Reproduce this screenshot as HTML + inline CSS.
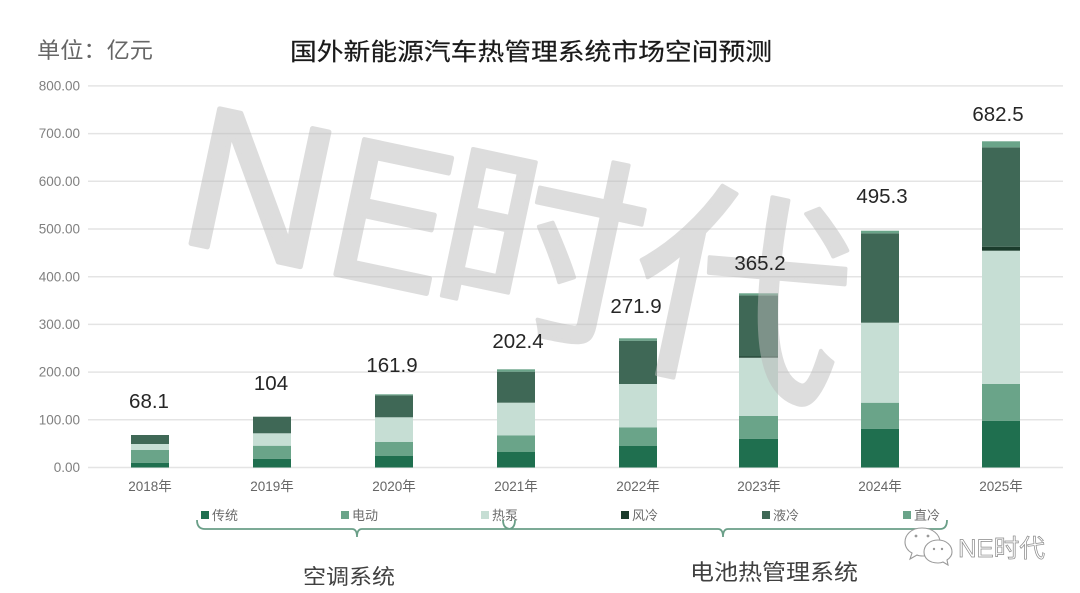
<!DOCTYPE html>
<html>
<head>
<meta charset="utf-8">
<style>
  html, body { margin: 0; padding: 0; background: #ffffff; }
  body { width: 1080px; height: 593px; overflow: hidden; }
  svg { display: block; }
  .cjk { font-family: "Liberation Sans", "Noto Sans CJK SC", "WenQuanYi Zen Hei", sans-serif; }
</style>
</head>
<body>
<svg width="1080" height="593" viewBox="0 0 1080 593" xmlns="http://www.w3.org/2000/svg">
  <rect width="1080" height="593" fill="#ffffff"/>

  <!-- Header -->
  <text class="cjk" x="37" y="58" font-size="22" fill="#666666" textLength="116" lengthAdjust="spacingAndGlyphs">单位：亿元</text>
  <text class="cjk" x="290" y="60" font-size="24" fill="#1a1a1a" stroke="#1a1a1a" stroke-width="0.2" textLength="482" lengthAdjust="spacingAndGlyphs">国外新能源汽车热管理系统市场空间预测</text>

  <!-- Gridlines -->
  <g stroke="#e4e4e4" stroke-width="1.5">
    <line x1="88" y1="85.9" x2="1063" y2="85.9"/>
    <line x1="88" y1="133.6" x2="1063" y2="133.6"/>
    <line x1="88" y1="181.3" x2="1063" y2="181.3"/>
    <line x1="88" y1="229" x2="1063" y2="229"/>
    <line x1="88" y1="276.7" x2="1063" y2="276.7"/>
    <line x1="88" y1="324.4" x2="1063" y2="324.4"/>
    <line x1="88" y1="372.1" x2="1063" y2="372.1"/>
    <line x1="88" y1="419.8" x2="1063" y2="419.8"/>
    <line x1="88" y1="467.5" x2="1063" y2="467.5"/>
  </g>

  <!-- Y axis labels -->
  <g font-family="Liberation Sans, sans-serif" font-size="13.5" fill="#808080" text-anchor="end">
    <text x="80" y="90.5">800.00</text>
    <text x="80" y="138.2">700.00</text>
    <text x="80" y="185.9">600.00</text>
    <text x="80" y="233.6">500.00</text>
    <text x="80" y="281.3">400.00</text>
    <text x="80" y="329">300.00</text>
    <text x="80" y="376.7">200.00</text>
    <text x="80" y="424.4">100.00</text>
    <text x="80" y="472.1">0.00</text>
  </g>

  <!-- Bars -->
  <!-- 2018 -->
  <rect x="131" y="462.7" width="38" height="4.8" fill="#1f6f4f"/>
  <rect x="131" y="450" width="38" height="12.7" fill="#6aa489"/>
  <rect x="131" y="444" width="38" height="6" fill="#c6ded4"/>
  <rect x="131" y="435" width="38" height="9" fill="#3f6856"/>
  <!-- 2019 -->
  <rect x="253" y="458.7" width="38" height="8.8" fill="#1f6f4f"/>
  <rect x="253" y="445.7" width="38" height="13" fill="#6aa489"/>
  <rect x="253" y="433.3" width="38" height="12.4" fill="#c6ded4"/>
  <rect x="253" y="416.7" width="38" height="16.6" fill="#3f6856"/>
  <!-- 2020 -->
  <rect x="375" y="456" width="38" height="11.5" fill="#1f6f4f"/>
  <rect x="375" y="442" width="38" height="14" fill="#6aa489"/>
  <rect x="375" y="417.3" width="38" height="24.7" fill="#c6ded4"/>
  <rect x="375" y="395.3" width="38" height="22" fill="#3f6856"/>
  <rect x="375" y="394.3" width="38" height="1" fill="#6aa489"/>
  <!-- 2021 -->
  <rect x="497" y="452" width="38" height="15.5" fill="#1f6f4f"/>
  <rect x="497" y="435.3" width="38" height="16.7" fill="#6aa489"/>
  <rect x="497" y="402.7" width="38" height="32.6" fill="#c6ded4"/>
  <rect x="497" y="371.7" width="38" height="31" fill="#3f6856"/>
  <rect x="497" y="369.3" width="38" height="2.4" fill="#6aa489"/>
  <!-- 2022 -->
  <rect x="619" y="446" width="38" height="21.5" fill="#1f6f4f"/>
  <rect x="619" y="427.3" width="38" height="18.7" fill="#6aa489"/>
  <rect x="619" y="384" width="38" height="43.3" fill="#c6ded4"/>
  <rect x="619" y="340.7" width="38" height="43.3" fill="#3f6856"/>
  <rect x="619" y="338.3" width="38" height="2.4" fill="#6aa489"/>
  <!-- 2023 -->
  <rect x="739" y="438.7" width="39" height="28.8" fill="#1f6f4f"/>
  <rect x="739" y="416" width="39" height="22.7" fill="#6aa489"/>
  <rect x="739" y="357.7" width="39" height="58.3" fill="#c6ded4"/>
  <rect x="739" y="356.5" width="39" height="1.2" fill="#1b3c2c"/>
  <rect x="739" y="295.3" width="39" height="61.2" fill="#3f6856"/>
  <rect x="739" y="293.3" width="39" height="2" fill="#6aa489"/>
  <!-- 2024 -->
  <rect x="861" y="428.7" width="38" height="38.8" fill="#1f6f4f"/>
  <rect x="861" y="402.7" width="38" height="26" fill="#6aa489"/>
  <rect x="861" y="322.7" width="38" height="80" fill="#c6ded4"/>
  <rect x="861" y="233.3" width="38" height="89.4" fill="#3f6856"/>
  <rect x="861" y="230.7" width="38" height="2.6" fill="#6aa489"/>
  <!-- 2025 -->
  <rect x="982" y="420.7" width="38" height="46.8" fill="#1f6f4f"/>
  <rect x="982" y="384" width="38" height="36.7" fill="#6aa489"/>
  <rect x="982" y="250.7" width="38" height="133.3" fill="#c6ded4"/>
  <rect x="982" y="246.7" width="38" height="4" fill="#1b3c2c"/>
  <rect x="982" y="147.3" width="38" height="99.4" fill="#3f6856"/>
  <rect x="982" y="141.3" width="38" height="6" fill="#6aa489"/>

  <!-- Watermark -->
  <g opacity="0.5" transform="translate(175,240) rotate(12)">
    <g class="cjk" fill="rgb(188,188,188)" stroke="rgb(188,188,188)" stroke-linejoin="round">
      <text x="0" y="0" font-size="200" stroke-width="5">N</text>
      <text transform="translate(150,0) scale(0.86,1)" x="0" y="0" font-size="200" stroke-width="5">E</text>
      <text x="256" y="4" font-size="205" stroke-width="4">时</text>
      <text x="456" y="14" font-size="218" stroke-width="4">代</text>
    </g>
  </g>

  <!-- Value labels -->
  <g font-family="Liberation Sans, sans-serif" font-size="20.5" fill="#262626" text-anchor="middle">
    <text x="149" y="408">68.1</text>
    <text x="271" y="390">104</text>
    <text x="392" y="372">161.9</text>
    <text x="518" y="348">202.4</text>
    <text x="636" y="313">271.9</text>
    <text x="760" y="270">365.2</text>
    <text x="882" y="203">495.3</text>
    <text x="998" y="121">682.5</text>
  </g>

  <!-- X axis labels -->
  <g class="cjk" font-size="13.5" fill="#666666" text-anchor="middle">
    <text x="150" y="491">2018年</text>
    <text x="272" y="491">2019年</text>
    <text x="394" y="491">2020年</text>
    <text x="516" y="491">2021年</text>
    <text x="638" y="491">2022年</text>
    <text x="759" y="491">2023年</text>
    <text x="880" y="491">2024年</text>
    <text x="1001" y="491">2025年</text>
  </g>

  <!-- Legend -->
  <g class="cjk" font-size="13" fill="#6b6b6b">
    <rect x="201" y="511" width="8" height="8" fill="#1f6f4f"/>
    <text x="212" y="520">传统</text>
    <rect x="341" y="511" width="8" height="8" fill="#6aa489"/>
    <text x="352" y="520">电动</text>
    <rect x="481" y="511" width="8" height="8" fill="#c6ded4"/>
    <text x="492" y="520">热泵</text>
    <rect x="621" y="511" width="8" height="8" fill="#1b3c2c"/>
    <text x="632" y="520">风冷</text>
    <rect x="762" y="511" width="8" height="8" fill="#3f6856"/>
    <text x="773" y="520">液冷</text>
    <rect x="903" y="511" width="8" height="8" fill="#6aa489"/>
    <text x="914" y="520">直冷</text>
  </g>

  <!-- Braces -->
  <g fill="none" stroke="#6a9f88" stroke-width="1.8">
    <path d="M197,520 Q197,529 205,529 L352,529 Q357,529 357,537 Q357,529 362,529 L508,529 Q515,529 515,520"/>
    <path d="M503,520 Q503,529 511,529 L718,529 Q723,529 723,537 Q723,529 728,529 L940,529 Q947,529 947,520"/>
  </g>

  <!-- Group labels -->
  <text class="cjk" x="303" y="584" font-size="21" fill="#404040" textLength="92" lengthAdjust="spacingAndGlyphs">空调系统</text>
  <text class="cjk" x="690" y="580" font-size="22" fill="#404040" textLength="168" lengthAdjust="spacingAndGlyphs">电池热管理系统</text>

  <!-- Logo -->
  <g fill="#ffffff" stroke="#9a9a9a" stroke-width="1.1">
    <path d="M922,528 C911,528 905,535 905,542 C905,547 908,551 912,553 L910,559 L917,555 C919,556 921,556 923,556 C934,556 940,549 940,542 C940,535 933,528 922,528 Z"/>
    <path d="M938,540 C929,540 924,546 924,552 C924,558 929,563 938,563 C940,563 941,563 943,562 L948,565 L947,560 C950,558 952,555 952,552 C952,546 947,540 938,540 Z"/>
  </g>
  <g fill="#9a9a9a">
    <circle cx="916" cy="536" r="1.4"/>
    <circle cx="928" cy="536" r="1.4"/>
    <circle cx="934" cy="549" r="1.2"/>
    <circle cx="942" cy="549" r="1.2"/>
  </g>
  <text class="cjk" x="958" y="557" font-size="25" fill="#ffffff" stroke="#8a8a8a" stroke-width="0.7" textLength="87" lengthAdjust="spacingAndGlyphs">NE时代</text>
</svg>
</body>
</html>
